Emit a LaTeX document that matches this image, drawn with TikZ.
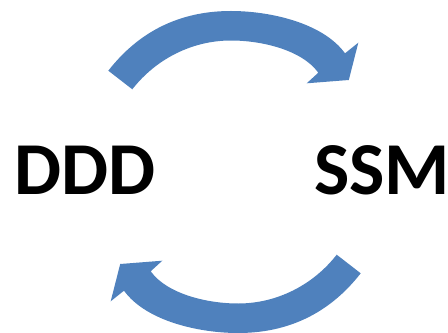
\documentclass[tikz,border=0pt]{standalone}
\usepackage{fontspec}
\setmainfont{Carlito}
\definecolor{arrowblue}{RGB}{79,129,189}
\tikzset{
  blockarrow/.style={fill=arrowblue, draw=none},
  bigword/.style={font=\bfseries\fontsize{56}{60}\selectfont, inner sep=0pt, anchor=base}
}
% Outline of one curved block arrow (tail at left, head at right)
\newcommand\curvedarrowoutline{%
  (108.3,261.3) to[out=52,in=180,looseness=0.95] (231,321)
  to[out=0,in=126,looseness=0.8] (345,278.7)
  -- (358.3,289.3) -- (348.8,252) -- (306.7,248.7) -- (318.3,259.3)
  to[out=126,in=0,looseness=0.8] (231,291.5)
  to[out=180,in=52,looseness=0.9] (132.3,242.7) -- cycle}
\begin{document}
\begin{tikzpicture}[x=0.75pt,y=0.75pt]
  \useasboundingbox (0,0) rectangle (448,332);
  \fill[blockarrow] \curvedarrowoutline;
  \begin{scope}[rotate around={180:(234.5,160)}]
    \fill[blockarrow] \curvedarrowoutline;
  \end{scope}
  \node[bigword] (ddd) at (85,138) {DDD};
  \node[bigword] (ssm) at (382,138) {SSM};
\end{tikzpicture}
\end{document}
